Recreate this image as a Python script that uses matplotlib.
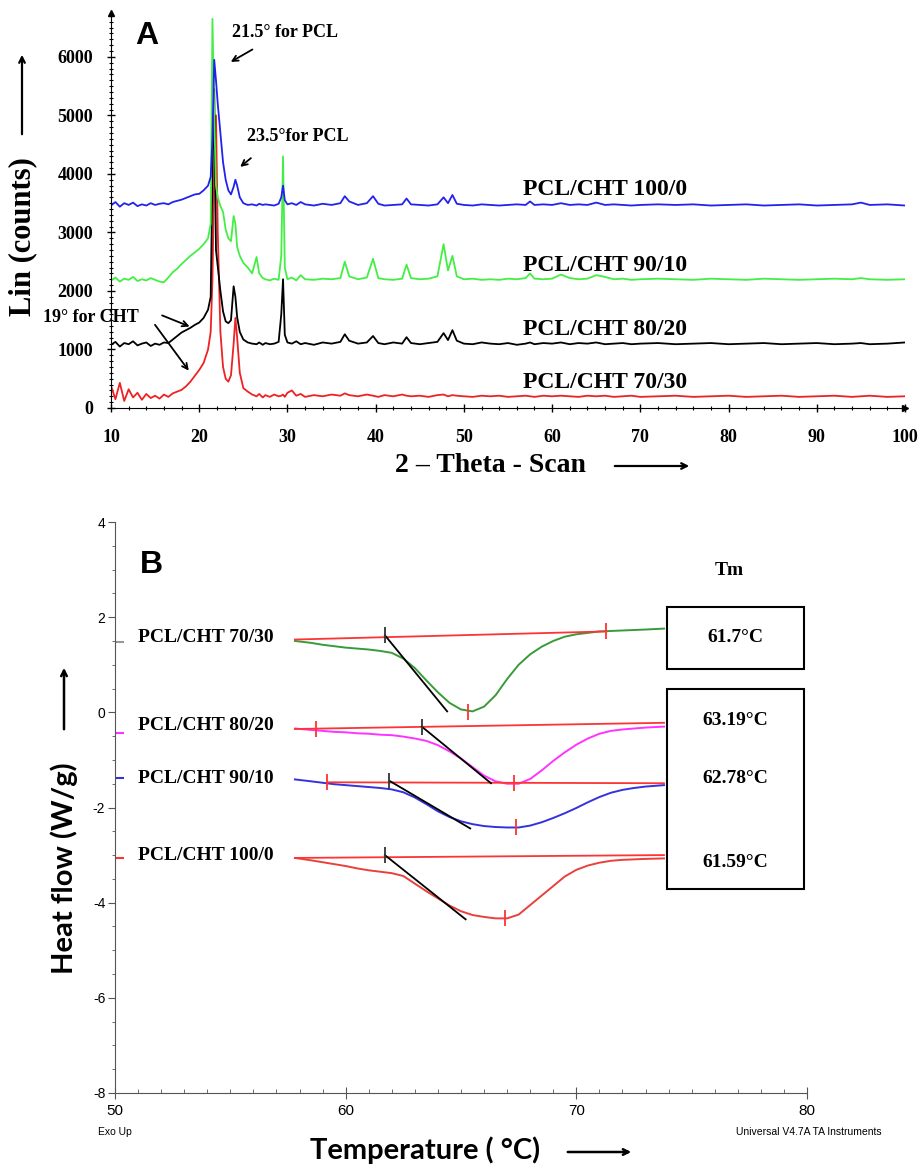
import matplotlib.pyplot as plt
from matplotlib.ticker import MultipleLocator
from matplotlib.patches import Rectangle

plt.rcParams['axes.unicode_minus'] = False

# ----------------------------------------------------------------------
# Dados - painel A (DRX)
# ----------------------------------------------------------------------
two_theta = [10, 10.5, 11, 11.5, 12, 12.5, 13, 13.5, 14, 14.5,
             15, 15.5, 16, 16.5, 17, 17.5, 18, 18.5, 19, 19.5,
             20, 20.5, 21, 21.3, 21.5, 21.7, 21.9, 22.1, 22.4, 22.7,
             23.0, 23.3, 23.6, 23.9, 24.1, 24.3, 24.6, 25, 25.5, 26,
             26.5, 26.8, 27.2, 27.5, 28, 28.5, 29, 29.3, 29.5, 29.7,
             30, 30.5, 31, 31.5, 32, 33, 34, 35, 36, 36.5,
             37, 38, 39, 39.7, 40.3, 41, 42, 43, 43.5, 44,
             45, 46, 47, 47.7, 48.2, 48.7, 49.2, 50, 51, 52,
             53, 54, 55, 56, 57, 57.5, 58, 59, 60, 61,
             62, 63, 64, 65, 66, 67, 68, 69, 70, 72,
             74, 76, 78, 80, 82, 84, 86, 88, 90, 92,
             94, 95, 96, 98, 100]

xrd_100_0 = [3460, 3520, 3440, 3500, 3470, 3510, 3450, 3480, 3460, 3500,
             3470, 3490, 3500, 3480, 3520, 3540, 3560, 3590, 3620, 3650,
             3660, 3720, 3800, 3950, 4600, 5950, 5600, 5200, 4700, 4200,
             3900, 3720, 3650, 3780, 3900, 3800, 3600, 3500, 3470, 3480,
             3460, 3490, 3470, 3480, 3470, 3460, 3490, 3600, 3800, 3550,
             3480, 3500, 3470, 3520, 3480, 3460, 3490, 3470, 3500, 3620,
             3530, 3470, 3500, 3620, 3490, 3460, 3470, 3480, 3580, 3480,
             3470, 3460, 3480, 3600, 3500, 3640, 3490, 3470, 3460, 3480,
             3470, 3460, 3470, 3480, 3470, 3530, 3470, 3480, 3470, 3500,
             3470, 3480, 3470, 3510, 3470, 3480, 3470, 3460, 3470, 3480,
             3470, 3480, 3460, 3470, 3480, 3460, 3470, 3480, 3460, 3470,
             3480, 3510, 3470, 3480, 3460]

xrd_90_10 = [2180, 2230, 2160, 2210, 2190, 2240, 2170, 2200, 2180, 2220,
             2190, 2160, 2150, 2230, 2320, 2380, 2460, 2530, 2600, 2660,
             2720, 2800, 2900, 3150, 6650, 5000, 3800, 3600, 3450, 3350,
             3050, 2900, 2850, 3280, 3150, 2750, 2600, 2480, 2400, 2300,
             2580, 2300, 2220, 2200, 2180, 2210, 2190, 2600, 4300, 2400,
             2200, 2230, 2180, 2270, 2200, 2190, 2210, 2200, 2220, 2500,
             2250, 2200, 2230, 2550, 2220, 2200, 2190, 2210, 2450, 2220,
             2200, 2210, 2250, 2800, 2350, 2600, 2250, 2200, 2210, 2190,
             2200, 2190, 2210, 2200, 2220, 2300, 2210, 2200, 2210, 2280,
             2220, 2200, 2210, 2270, 2240, 2200, 2210, 2190, 2200, 2210,
             2200, 2190, 2210, 2200, 2190, 2210, 2200, 2190, 2200, 2210,
             2200, 2220, 2200, 2190, 2200]

xrd_80_20 = [1080, 1130, 1050, 1110, 1090, 1140, 1070, 1100, 1120, 1060,
             1100, 1080, 1120, 1110, 1170, 1230, 1290, 1330, 1370, 1420,
             1460, 1540, 1680, 1900, 4000, 5450, 2700, 2420, 2000, 1650,
             1480, 1450, 1500, 2080, 1900, 1550, 1300, 1170, 1120, 1100,
             1090, 1120, 1080, 1110, 1090, 1100, 1130, 1600, 2200, 1250,
             1120, 1100, 1140, 1090, 1110, 1080, 1120, 1100, 1130, 1260,
             1150, 1100, 1120, 1230, 1110, 1090, 1120, 1100, 1210, 1110,
             1090, 1110, 1130, 1280, 1160, 1330, 1150, 1100, 1090, 1120,
             1100, 1090, 1110, 1080, 1100, 1120, 1090, 1110, 1100, 1120,
             1090, 1110, 1100, 1120, 1090, 1100, 1110, 1090, 1100, 1110,
             1090, 1100, 1110, 1090, 1100, 1110, 1090, 1100, 1110, 1090,
             1100, 1110, 1090, 1100, 1120]

xrd_70_30 = [380, 150, 430, 120, 320, 180, 260, 140, 240, 170,
             210, 160, 230, 190, 250, 280, 310, 370, 450, 550,
             650, 770, 1000, 1300, 2200, 4000, 5000, 3000, 1300, 700,
             500, 450, 560, 1100, 1540, 1200, 600, 340, 280, 230,
             200, 240, 180, 220, 190, 230, 200, 210, 230, 190,
             260, 300, 210, 240, 190, 220, 200, 230, 210, 250,
             220, 200, 230, 210, 190, 220, 200, 230, 210, 200,
             210, 190, 220, 230, 200, 220, 210, 200, 190, 210,
             200, 210, 190, 200, 210, 200, 190, 210, 200, 210,
             200, 190, 210, 200, 210, 190, 200, 210, 190, 200,
             210, 190, 200, 210, 190, 200, 210, 190, 200, 210,
             190, 200, 210, 190, 200]

xrd_labels = ['PCL/CHT 100/0', 'PCL/CHT 90/10', 'PCL/CHT 80/20', 'PCL/CHT 70/30']
xrd_label_y = [3730, 2440, 1340, 430]

# ----------------------------------------------------------------------
# Dados - painel B (DSC)
# ----------------------------------------------------------------------
temp = [57.8, 58.5, 59, 59.5, 60, 60.5, 61, 61.5, 62, 62.5,
        63, 63.5, 64, 64.5, 65, 65.5, 66, 66.5, 67, 67.5,
        68, 68.5, 69, 69.5, 70, 70.5, 71, 71.5, 72, 72.5,
        73, 73.8]

hf_70_30 = [1.50, 1.46, 1.42, 1.39, 1.36, 1.34, 1.32, 1.29, 1.25, 1.13,
            0.93, 0.67, 0.42, 0.20, 0.06, 0.02, 0.12, 0.36, 0.70, 1.00,
            1.22, 1.38, 1.50, 1.59, 1.64, 1.67, 1.70, 1.71, 1.72, 1.73,
            1.74, 1.76]
hf_80_20 = [-0.34, -0.37, -0.39, -0.41, -0.42, -0.44, -0.45, -0.47, -0.48, -0.51,
            -0.55, -0.60, -0.69, -0.82, -0.97, -1.15, -1.33, -1.45, -1.50, -1.50,
            -1.40, -1.22, -1.02, -0.84, -0.68, -0.55, -0.45, -0.39, -0.36, -0.34,
            -0.32, -0.30]
hf_90_10 = [-1.41, -1.45, -1.48, -1.51, -1.53, -1.55, -1.57, -1.59, -1.62, -1.68,
            -1.79, -1.93, -2.08, -2.20, -2.29, -2.35, -2.39, -2.41, -2.42, -2.42,
            -2.38, -2.31, -2.22, -2.12, -2.01, -1.89, -1.78, -1.69, -1.63, -1.59,
            -1.56, -1.53]
hf_100_0 = [-3.06, -3.11, -3.15, -3.19, -3.23, -3.28, -3.32, -3.35, -3.38, -3.44,
            -3.60, -3.76, -3.91, -4.06, -4.18, -4.26, -4.30, -4.33, -4.33, -4.25,
            -4.05, -3.85, -3.65, -3.45, -3.31, -3.22, -3.16, -3.12, -3.10, -3.09,
            -3.08, -3.07]

dsc_labels = ['PCL/CHT 70/30', 'PCL/CHT 80/20', 'PCL/CHT 90/10', 'PCL/CHT 100/0']
dsc_label_y = [1.58, -0.27, -1.39, -3.0]

# linhas de base (vermelhas) e tangentes de onset (pretas)
base_x = [[57.8, 71.3], [57.8, 73.8], [59.2, 73.8], [57.8, 73.8]]
base_y = [[1.53, 1.70], [-0.35, -0.22], [-1.47, -1.49], [-3.06, -3.00]]
tan_x = [[61.7, 64.4], [63.3, 66.3], [61.9, 65.4], [61.7, 65.2]]
tan_y = [[1.62, 0.02], [-0.30, -1.49], [-1.44, -2.44], [-3.00, -4.35]]
red_tick_x = [71.3, 65.3, 58.7, 67.3, 59.2, 67.4, 66.9]
red_tick_y = [1.70, 0.00, -0.34, -1.49, -1.47, -2.42, -4.33]

tm_values = ['61.7°C', '63.19°C', '62.78°C', '61.59°C']
tm_y = [1.58, -0.17, -1.39, -3.15]

# ----------------------------------------------------------------------
W, H = 919, 1170
fx = lambda px: px / W
fy = lambda py: 1 - py / H

serif = 'Liberation Serif'
fig = plt.figure(figsize=(9.19, 11.70), dpi=100)

# ======================= Painel A =======================
ax = fig.add_axes([fx(111), fy(408), fx(905) - fx(111), fy(13) - fy(408)])
ax.plot(two_theta, xrd_70_30, color='#ee2222', lw=1.3)
ax.plot(two_theta, xrd_80_20, color='black', lw=1.3)
ax.plot(two_theta, xrd_90_10, color='#44ee44', lw=1.3)
ax.plot(two_theta, xrd_100_0, color='#2222ee', lw=1.3)
ax.set_xlim(10, 100)
ax.set_ylim(0, 6750)
ax.spines['top'].set_visible(False)
ax.spines['right'].set_visible(False)
ax.xaxis.set_major_locator(MultipleLocator(10))
ax.xaxis.set_minor_locator(MultipleLocator(2))
ax.yaxis.set_major_locator(MultipleLocator(1000))
ax.yaxis.set_minor_locator(MultipleLocator(100))
ax.tick_params(axis='both', which='major', direction='inout', length=6, width=1)
ax.tick_params(axis='both', which='minor', direction='inout', length=3, width=0.8)
ax.tick_params(axis='x', pad=12)
ax.tick_params(axis='y', pad=10)
for lab in ax.get_xticklabels() + ax.get_yticklabels():
    lab.set_fontfamily(serif)
    lab.set_fontweight('bold')
    lab.set_fontsize(13)
# setas nos fins dos eixos
ax.plot(1, 0, '>k', ms=5, transform=ax.transAxes, clip_on=False)
ax.plot(0, 1, '^k', ms=4, transform=ax.transAxes, clip_on=False)

for lab, yv in zip(xrd_labels, xrd_label_y):
    ax.text(56.7, yv, lab, family=serif, weight='bold', fontsize=17, va='center')

ax.text(12.7, 6360, 'A', family='Liberation Sans', weight='bold', fontsize=23, va='center')
ax.text(23.7, 6410, '21.5° for PCL', family=serif, weight='bold', fontsize=13, va='center')
ax.annotate('', xy=(23.3, 5890), xytext=(26.3, 6150),
            arrowprops=dict(arrowstyle='->', lw=1.3, color='black'))
ax.text(25.4, 4640, '23.5°for PCL', family=serif, weight='bold', fontsize=13, va='center')
ax.annotate('', xy=(24.4, 4090), xytext=(26.1, 4300),
            arrowprops=dict(arrowstyle='->', lw=1.3, color='black'))
ax.text(2.3, 1550, '19° for CHT', family=serif, weight='bold', fontsize=13, va='center',
        clip_on=False)
ax.annotate('', xy=(19.2, 1375), xytext=(15.5, 1600),
            arrowprops=dict(arrowstyle='->', lw=1.3, color='black'))
ax.annotate('', xy=(19.0, 600), xytext=(14.8, 1460),
            arrowprops=dict(arrowstyle='->', lw=1.3, color='black'))

fig.text(fx(490), fy(466), '2 – Theta - Scan', family=serif, weight='bold', fontsize=20,
         ha='center', va='center')
fig.text(fx(23), fy(237), 'Lin (counts)', family=serif, weight='bold', fontsize=22,
         rotation=90, ha='center', va='center')
ax.annotate('', xy=(fx(692), fy(466)), xytext=(fx(612), fy(466)), xycoords='figure fraction',
            textcoords='figure fraction', arrowprops=dict(arrowstyle='->', lw=1.6, color='black'))
ax.annotate('', xy=(fx(22), fy(52)), xytext=(fx(22), fy(137)), xycoords='figure fraction',
            textcoords='figure fraction', arrowprops=dict(arrowstyle='->', lw=1.6, color='black'))

# ======================= Painel B =======================
bx = fig.add_axes([fx(115), fy(1093), fx(807) - fx(115), fy(522) - fy(1093)])
bx.plot(temp, hf_70_30, color='#3a9a3a', lw=1.4)
bx.plot(temp, hf_80_20, color='#ff33ff', lw=1.4)
bx.plot(temp, hf_90_10, color='#3333dd', lw=1.4)
bx.plot(temp, hf_100_0, color='#e8413c', lw=1.4)
for xs, ys in zip(base_x, base_y):
    bx.plot(xs, ys, color='#ff3333', lw=1.3)
for xs, ys in zip(tan_x, tan_y):
    bx.plot(xs, ys, color='black', lw=1.3)
    bx.plot(xs[0], ys[0], marker='|', ms=11, mew=1.3, color='#333333')
bx.plot(red_tick_x, red_tick_y, ls='none', marker='|', ms=11, mew=1.3, color='#ff3333')

# marcas coloridas no eixo y
for yv, c in zip([1.47, -0.44, -1.37, -3.07], ['#999999', '#ff33ff', '#3333dd', '#ff3333']):
    bx.plot(50.2, yv, marker='_', ms=6, mew=1.5, color=c, clip_on=False)

bx.set_xlim(50, 80)
bx.set_ylim(-8, 4)
bx.spines['top'].set_visible(False)
bx.spines['right'].set_visible(False)
for s in ['left', 'bottom']:
    bx.spines[s].set_color('#555555')
bx.xaxis.set_major_locator(MultipleLocator(10))
bx.xaxis.set_minor_locator(MultipleLocator(1))
bx.yaxis.set_major_locator(MultipleLocator(2))
bx.yaxis.set_minor_locator(MultipleLocator(0.5))
bx.tick_params(axis='y', which='major', direction='out', length=5, color='#555555',
               labelsize=10, pad=2)
bx.tick_params(axis='y', which='minor', direction='out', length=2, color='#555555')
bx.tick_params(axis='x', which='major', direction='inout', length=8, color='#555555',
               labelsize=11, pad=4)
bx.tick_params(axis='x', which='minor', direction='in', length=3, color='#555555')
for lab in bx.get_xticklabels() + bx.get_yticklabels():
    lab.set_fontfamily('Liberation Sans')

for lab, yv in zip(dsc_labels, dsc_label_y):
    bx.text(51.0, yv, lab, family=serif, weight='bold', fontsize=14, va='center')

bx.text(51.1, 3.09, 'B', family='Liberation Sans', weight='bold', fontsize=23, va='center')

# caixas com Tm
bx.add_patch(Rectangle((73.93, 0.92), 5.94, 1.29, fill=False, ec='black', lw=1.5,
                       clip_on=False))
bx.add_patch(Rectangle((73.93, -3.72), 5.94, 4.2, fill=False, ec='black', lw=1.5,
                       clip_on=False))
bx.text(76.65, 2.98, 'Tm', family=serif, weight='bold', fontsize=14, ha='center',
        va='center', clip_on=False)
for t, yv in zip(tm_values, tm_y):
    bx.text(76.9, yv, t, family=serif, weight='bold', fontsize=14, ha='center', va='center',
            clip_on=False)

fig.text(fx(64), fy(868), 'Heat flow (W/g)', family='Lato', weight='bold', fontsize=21,
         rotation=90, ha='center', va='center')
bx.annotate('', xy=(fx(64), fy(665)), xytext=(fx(64), fy(732)), xycoords='figure fraction',
            textcoords='figure fraction', arrowprops=dict(arrowstyle='->', lw=1.8, color='black'))
fig.text(fx(425), fy(1150), 'Temperature ( °C)', family='Lato', weight='bold', fontsize=21,
         ha='center', va='center')
bx.annotate('', xy=(fx(634), fy(1152)), xytext=(fx(565), fy(1152)), xycoords='figure fraction',
            textcoords='figure fraction', arrowprops=dict(arrowstyle='->', lw=1.8, color='black'))
fig.text(fx(98), fy(1132), 'Exo Up', family='Liberation Sans', fontsize=7.5, va='center')
fig.text(fx(882), fy(1132), 'Universal V4.7A TA Instruments', family='Liberation Sans',
         fontsize=7.5, ha='right', va='center')

fig.savefig('out.png', dpi=100)
